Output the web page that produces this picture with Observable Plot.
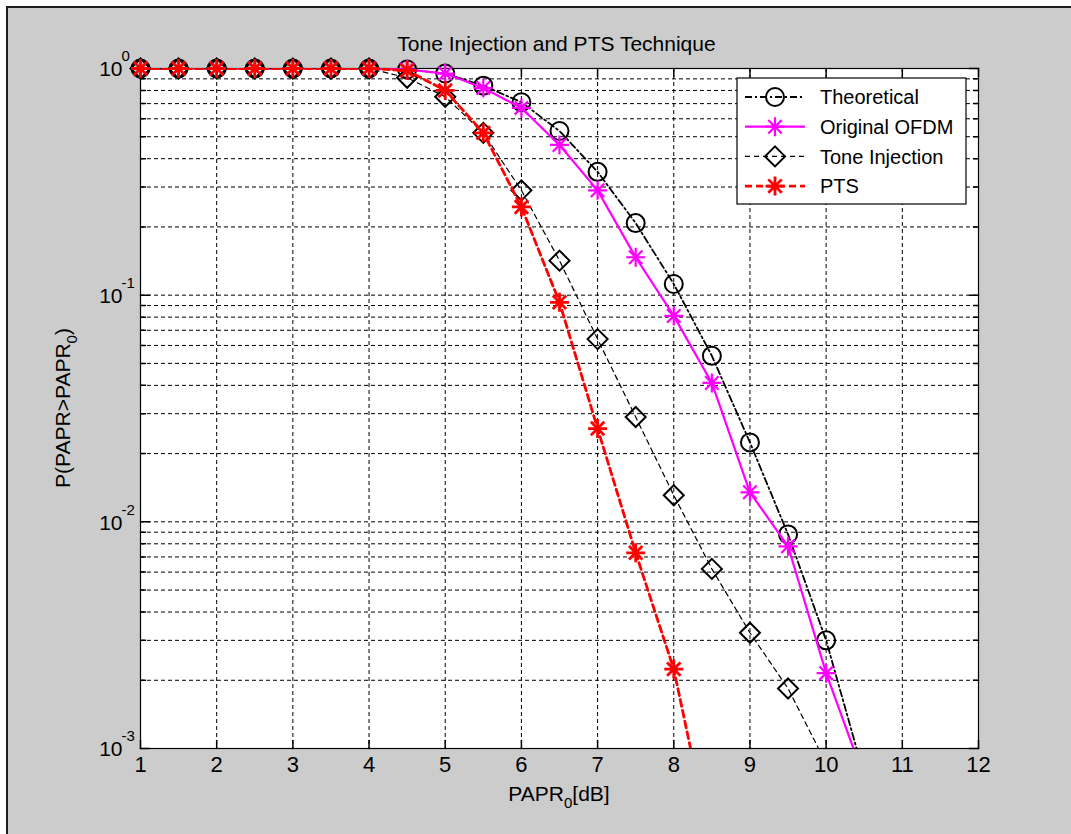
<!DOCTYPE html>
<html><head><meta charset="utf-8">
<script src="https://cdn.jsdelivr.net/npm/d3@7"></script>
<script src="https://cdn.jsdelivr.net/npm/@observablehq/plot@0.6"></script>
<style>
html,body{margin:0;padding:0;background:#fff;}
#panel{position:absolute;left:6px;top:6px;width:1065px;height:828px;background:#cccccc;border-top:2px solid #1e1e1e;border-left:2px solid #1e1e1e;overflow:hidden;}
#panel svg{position:absolute;left:0;top:0;}
</style></head><body><div id="panel"></div>
<script>
// ---- data ----
const titleText = "Tone Injection and PTS Technique";
const seriesNames = ["Theoretical", "Original OFDM", "Tone Injection", "PTS"];
const xTicks = [1,2,3,4,5,6,7,8,9,10,11,12];
const yDecades = [1e-3, 1e-2, 1e-1, 1];
const yDecadeExp = ["-3", "-2", "-1", "0"];
// last value of each series lies below the axis (line continues off-chart, no marker shown)
const theoX = [1,1.5,2,2.5,3,3.5,4,4.5,5,5.5,6,6.5,7,7.5,8,8.5,9,9.5,10,10.5];
const theoY = [1,1,1,1,1,1,1,0.99,0.95,0.84,0.71,0.53,0.35,0.208,0.112,0.054,0.0224,0.0088,0.0030,0.00076];
const ofdmX = [1,1.5,2,2.5,3,3.5,4,4.5,5,5.5,6,6.5,7,7.5,8,8.5,9,9.5,10,10.5];
const ofdmY = [1,1,1,1,1,1,1,0.99,0.95,0.82,0.67,0.46,0.29,0.147,0.081,0.041,0.0135,0.0078,0.00215,0.00074];
const toneX = [1,1.5,2,2.5,3,3.5,4,4.5,5,5.5,6,6.5,7,7.5,8,8.5,9,9.5,10];
const toneY = [1,1,1,1,1,1,1,0.91,0.75,0.52,0.29,0.142,0.064,0.029,0.0131,0.0062,0.00324,0.00184,0.00086];
const ptsX  = [1,1.5,2,2.5,3,3.5,4,4.5,5,5.5,6,6.5,7,7.5,8,8.5];
const ptsY  = [1,1,1,1,1,1,1,0.98,0.80,0.52,0.245,0.093,0.0258,0.0073,0.00224,0.00036];

const toRows = (xs, ys) => xs.map((x, i) => ({x, y: ys[i]}));
const theo = toRows(theoX, theoY), ofdm = toRows(ofdmX, ofdmY), tone = toRows(toneX, toneY), pts = toRows(ptsX, ptsY);
const visible = rows => rows.filter(d => d.y >= 1e-3);

const minors = [];
for (const d of [1e-3, 1e-2, 1e-1]) for (let k = 2; k <= 9; k++) minors.push(+(k * d).toPrecision(3));
const gridY = minors.concat([1e-2, 1e-1]);

// ---- symbols ----
const starSym = {draw(c, size){ const r = Math.sqrt(size/Math.PI), d = r*Math.SQRT1_2;
  c.moveTo(-r,0); c.lineTo(r,0); c.moveTo(0,-r); c.lineTo(0,r);
  c.moveTo(-d,-d); c.lineTo(d,d); c.moveTo(-d,d); c.lineTo(d,-d); }};
const diamondSym = {draw(c, size){ const r = Math.sqrt(size/Math.PI);
  c.moveTo(0,-r); c.lineTo(r,0); c.lineTo(0,r); c.lineTo(-r,0); c.closePath(); }};
const circleSym = {draw(c, size){ const r = Math.sqrt(size/Math.PI); c.moveTo(r,0); c.arc(0,0,r,0,2*Math.PI); }};
const tickShape = {draw(c, l){ c.moveTo(0,0); c.lineTo(0,-l); }};

const styles = [
  {rows: theo, stroke: "black", sw: 1.8, dash: "7,3,2,3", sym: circleSym, r: 9, msw: 2},
  {rows: ofdm, stroke: "#ff00ff", sw: 2.2, dash: null, sym: starSym, r: 9.5, msw: 2.2},
  {rows: tone, stroke: "black", sw: 1.2, dash: "5,4", sym: diamondSym, r: 10, msw: 2},
  {rows: pts, stroke: "#ff0000", sw: 2.8, dash: "7,4", sym: starSym, r: 9.5, msw: 2.8}
];

const seriesMarks = styles.flatMap(s => [
  Plot.line(s.rows, {x: "x", y: "y", stroke: s.stroke, strokeWidth: s.sw, strokeDasharray: s.dash, clip: true}),
  Plot.dot(visible(s.rows), {x: "x", y: "y", symbol: s.sym, r: s.r, stroke: s.stroke, strokeWidth: s.msw, fill: "none"})
]);

const W = 1063, H = 826;
const plot = Plot.plot({
  width: W, height: H,
  marginLeft: 132, marginRight: 93, marginTop: 60, marginBottom: 86,
  style: {background: "transparent", fontFamily: "'Liberation Sans', Arial, sans-serif", fontSize: "20px", color: "black"},
  x: {domain: [1, 12]},
  y: {type: "log", domain: [1e-3, 1]},
  marks: [
    Plot.frame({fill: "white", stroke: null}),
    Plot.ruleX(xTicks.slice(1, -1), {stroke: "black", strokeWidth: 1, strokeDasharray: "4,3"}),
    Plot.ruleY(gridY, {stroke: "black", strokeWidth: 1, strokeDasharray: "4,3"}),
    // inward ticks
    Plot.vector(xTicks, {x: d => d, frameAnchor: "bottom", length: 8, rotate: 0, anchor: "start", shape: tickShape, stroke: "black"}),
    Plot.vector(xTicks, {x: d => d, frameAnchor: "top", length: 8, rotate: 180, anchor: "start", shape: tickShape, stroke: "black"}),
    Plot.vector(yDecades, {y: d => d, frameAnchor: "left", length: 9, rotate: 90, anchor: "start", shape: tickShape, stroke: "black"}),
    Plot.vector(yDecades, {y: d => d, frameAnchor: "right", length: 9, rotate: -90, anchor: "start", shape: tickShape, stroke: "black"}),
    Plot.vector(minors, {y: d => d, frameAnchor: "left", length: 5, rotate: 90, anchor: "start", shape: tickShape, stroke: "black"}),
    Plot.vector(minors, {y: d => d, frameAnchor: "right", length: 5, rotate: -90, anchor: "start", shape: tickShape, stroke: "black"}),
    Plot.frame({stroke: "black", strokeWidth: 1.2}),
    Plot.axisX(xTicks, {tickSize: 0, tickPadding: 8, fontSize: 22, label: null, tickFormat: d => String(d)}),
    Plot.axisY({ticks: [], tickSize: 0, label: null}),
    Plot.text(yDecades, {y: d => d, frameAnchor: "left", text: () => "10", textAnchor: "end", dx: -18, dy: 1, fontSize: 21}),
    Plot.text(yDecades, {y: d => d, frameAnchor: "left", text: (d, i) => yDecadeExp[i], textAnchor: "start", dx: -19, dy: -12, fontSize: 15}),
    Plot.text([titleText], {frameAnchor: "top", dy: -32, dx: -3, fontSize: 21}),
    ...seriesMarks
  ]
});
plot.setAttribute("overflow", "visible");
document.getElementById("panel").appendChild(plot);

// ---- axis labels with sub/superscripts ----
const svg = d3.select(plot);
const xs = plot.scale("x"), ys = plot.scale("y");
const cx = (xs.apply(1) + xs.apply(12)) / 2;
const cy = (ys.apply(1e-3) + ys.apply(1)) / 2;
const xl = svg.append("text").attr("x", cx).attr("y", ys.apply(1e-3) + 53)
  .attr("text-anchor", "middle").attr("font-size", 21).attr("fill", "black");
xl.append("tspan").text("PAPR");
xl.append("tspan").attr("font-size", 15).attr("dy", 7).text("0");
xl.append("tspan").attr("dy", -7).text("[dB]");

const yl = svg.append("text").attr("transform", `translate(${xs.apply(1) - 70},${cy}) rotate(-90)`)
  .attr("text-anchor", "middle").attr("font-size", 21).attr("fill", "black");
yl.append("tspan").text("P(PAPR>PAPR");
yl.append("tspan").attr("font-size", 15).attr("dy", 7).text("0");
yl.append("tspan").attr("dy", -7).text(")");

// ---- legend ----
const lg = svg.append("g").attr("transform", "translate(729,70)");
lg.append("rect").attr("width", 229).attr("height", 126).attr("fill", "white").attr("stroke", "black").attr("stroke-width", 1.2);
styles.forEach((s, i) => {
  const yy = 19 + i * 29.7;
  lg.append("line").attr("x1", 8).attr("x2", 68).attr("y1", yy).attr("y2", yy)
    .attr("stroke", s.stroke).attr("stroke-width", s.sw).attr("stroke-dasharray", s.dash);
  const p = d3.path(); s.sym.draw(p, s.r * s.r * Math.PI);
  lg.append("path").attr("d", p.toString()).attr("transform", `translate(38,${yy})`)
    .attr("fill", "none").attr("stroke", s.stroke).attr("stroke-width", s.msw);
  lg.append("text").attr("x", 83).attr("y", yy).attr("dy", "0.36em").attr("text-anchor", "start")
    .attr("font-size", 20).attr("fill", "black").text(seriesNames[i]);
});
</script>
</body></html>
